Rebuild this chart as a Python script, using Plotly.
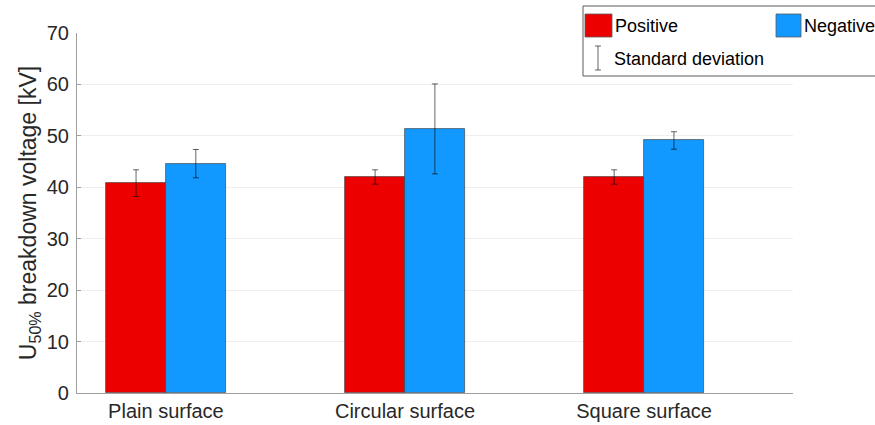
import plotly.graph_objects as go

categories = ["Plain surface", "Circular surface", "Square surface"]
positive = [40.8, 42.0, 42.0]
negative = [44.6, 51.35, 49.1]
positive_sd = [2.6, 1.4, 1.4]
negative_sd = [2.75, 8.75, 1.7]

RED = "rgb(237,0,0)"
BLUE = "rgb(17,153,255)"
FONT = "Liberation Sans, Arial, sans-serif"

L, R, T, B = 77, 82, 33, 32
W, H = 875, 425
PW, PH = W - L - R, H - T - B

def px(x):
    return (x - L) / PW

def py(y):
    return (H - B - y) / PH

xpos = [1, 2, 3]
fig = go.Figure()
fig.add_trace(go.Bar(
    x=[x - 0.125 for x in xpos], y=positive, width=0.25, name="Positive",
    marker=dict(color=RED, line=dict(color="rgba(60,60,60,0.8)", width=0.8)),
    error_y=dict(type="data", array=positive_sd, visible=True, color="rgba(0,0,0,0.6)", thickness=1, width=3),
))
fig.add_trace(go.Bar(
    x=[x + 0.125 for x in xpos], y=negative, width=0.25, name="Negative",
    marker=dict(color=BLUE, line=dict(color="rgba(60,60,60,0.8)", width=0.8)),
    error_y=dict(type="data", array=negative_sd, visible=True, color="rgba(0,0,0,0.6)", thickness=1, width=3),
))

# manual legend
shapes = [
    dict(type="rect", xref="paper", yref="paper", x0=px(583), x1=px(880), y0=py(76), y1=py(6),
         line=dict(color="rgb(90,90,90)", width=1), fillcolor="white", layer="above"),
    dict(type="rect", xref="paper", yref="paper", x0=px(585), x1=px(612), y0=py(37), y1=py(14),
         line=dict(color="rgb(90,90,90)", width=0.8), fillcolor=RED, layer="above"),
    dict(type="rect", xref="paper", yref="paper", x0=px(776), x1=px(801), y0=py(37), y1=py(14),
         line=dict(color="rgb(90,90,90)", width=0.8), fillcolor=BLUE, layer="above"),
    dict(type="line", xref="paper", yref="paper", x0=px(598), x1=px(598), y0=py(70), y1=py(46),
         line=dict(color="rgba(0,0,0,0.6)", width=1), layer="above"),
    dict(type="line", xref="paper", yref="paper", x0=px(595), x1=px(601), y0=py(70), y1=py(70),
         line=dict(color="rgba(0,0,0,0.6)", width=1), layer="above"),
    dict(type="line", xref="paper", yref="paper", x0=px(595), x1=px(601), y0=py(46), y1=py(46),
         line=dict(color="rgba(0,0,0,0.6)", width=1), layer="above"),
]
annotations = [
    dict(text="Positive", xref="paper", yref="paper", x=px(613), y=py(26), xanchor="left", yanchor="middle",
         showarrow=False, font=dict(size=18, color="black", family=FONT)),
    dict(text="Negative", xref="paper", yref="paper", x=px(802), y=py(26), xanchor="left", yanchor="middle",
         showarrow=False, font=dict(size=18, color="black", family=FONT)),
    dict(text="Standard deviation", xref="paper", yref="paper", x=px(612), y=py(59), xanchor="left", yanchor="middle",
         showarrow=False, font=dict(size=18, color="black", family=FONT)),
]

fig.update_layout(
    width=W, height=H,
    margin=dict(l=L, r=R, t=T, b=B, pad=0, autoexpand=False),
    paper_bgcolor="white", plot_bgcolor="white",
    showlegend=False,
    bargap=0, barmode="overlay",
    font=dict(family=FONT, color="rgb(40,40,40)"),
    shapes=shapes, annotations=annotations,
    xaxis=dict(range=[0.628, 3.623], tickvals=xpos, ticktext=categories, showgrid=False,
               showline=True, linecolor="rgb(160,160,160)", linewidth=1.2, ticks="",
               ticklabelstandoff=0, automargin=False,
               tickfont=dict(size=20, color="rgb(40,40,40)"), zeroline=False),
    yaxis=dict(range=[0, 70], dtick=10, showgrid=True, gridcolor="rgb(238,238,238)",
               showline=True, linecolor="rgb(160,160,160)", linewidth=1.2, ticks="inside",
               ticklen=4, tickcolor="rgb(160,160,160)", zeroline=False,
               ticklabelstandoff=3, automargin=False,
               tickfont=dict(size=20, color="rgb(40,40,40)"),
               title=dict(text="U<sub>50%</sub> breakdown voltage [kV]", font=dict(size=23, color="rgb(40,40,40)"), standoff=3)),
)

fig.write_html("out.html")
